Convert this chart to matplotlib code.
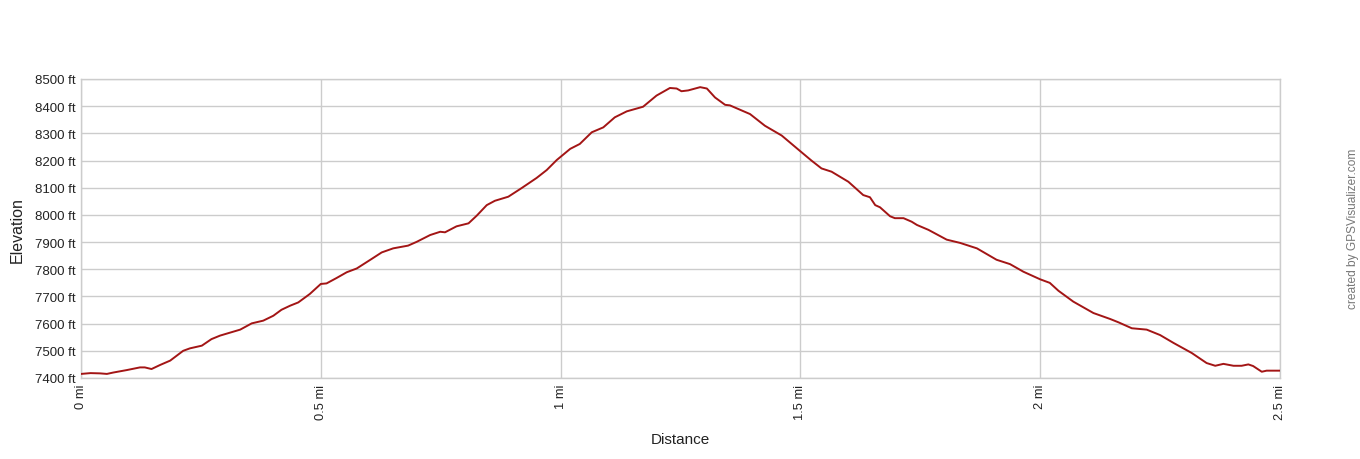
import matplotlib
matplotlib.use("Agg")
import matplotlib.pyplot as plt

distance_mi = [
    0.000, 0.020, 0.040, 0.054, 0.067, 0.095, 0.123, 0.133, 0.147, 0.165,
    0.186, 0.213, 0.227, 0.252, 0.272, 0.290, 0.332, 0.356, 0.380, 0.401,
    0.418, 0.436, 0.453, 0.477, 0.500, 0.512, 0.533, 0.554, 0.575, 0.606,
    0.627, 0.651, 0.682, 0.700, 0.728, 0.749, 0.759, 0.783, 0.808, 0.825,
    0.846, 0.863, 0.891, 0.919, 0.950, 0.971, 0.992, 1.020, 1.040, 1.065,
    1.089, 1.113, 1.138, 1.172, 1.200, 1.228, 1.242, 1.252, 1.266, 1.291,
    1.305, 1.322, 1.343, 1.353, 1.395, 1.426, 1.461, 1.500, 1.523, 1.544,
    1.565, 1.600, 1.631, 1.645, 1.656, 1.666, 1.687, 1.697, 1.715, 1.732,
    1.743, 1.767, 1.805, 1.833, 1.868, 1.909, 1.937, 1.965, 2.000, 2.020,
    2.038, 2.069, 2.111, 2.146, 2.163, 2.191, 2.222, 2.250, 2.278, 2.316,
    2.347, 2.365, 2.382, 2.403, 2.420, 2.434, 2.444, 2.462, 2.472, 2.500,
]
elevation_ft = [
    7415, 7418, 7417, 7415, 7420, 7429, 7439, 7439, 7433, 7448,
    7464, 7500, 7509, 7519, 7543, 7556, 7578, 7601, 7611, 7629,
    7651, 7666, 7678, 7709, 7746, 7748, 7768, 7789, 7803, 7838,
    7862, 7877, 7887, 7901, 7926, 7938, 7936, 7958, 7969, 7997,
    8036, 8052, 8067, 8099, 8136, 8165, 8202, 8243, 8261, 8304,
    8322, 8359, 8381, 8398, 8439, 8467, 8465, 8455, 8458, 8470,
    8465, 8432, 8405, 8403, 8371, 8328, 8292, 8234, 8200, 8171,
    8159, 8122, 8073, 8065, 8036, 8028, 7995, 7988, 7988, 7975,
    7963, 7945, 7909, 7897, 7877, 7835, 7819, 7791, 7763, 7750,
    7721, 7681, 7639, 7617, 7605, 7583, 7578, 7558, 7529, 7492,
    7455, 7445, 7452, 7445, 7445, 7450, 7444, 7423, 7427, 7427,
]

x_ticks = [0, 0.5, 1, 1.5, 2, 2.5]
x_tick_labels = ["0 mi", "0.5 mi", "1 mi", "1.5 mi", "2 mi", "2.5 mi"]
y_ticks = list(range(7400, 8600, 100))
y_tick_labels = [f"{v} ft" for v in y_ticks]

plt.rcParams['font.family'] = ['Liberation Sans', 'DejaVu Sans']

fig = plt.figure(figsize=(13.6, 4.6), dpi=100)
ax = fig.add_axes([81 / 1360, 1 - 379 / 460, (1280 - 81) / 1360, (379 - 80) / 460])

ax.plot(distance_mi, elevation_ft, color="#a31515", linewidth=1.4, zorder=3)

ax.set_xlim(0, 2.5)
ax.set_ylim(7400, 8500)
ax.set_xticks(x_ticks)
ax.set_xticklabels(x_tick_labels, rotation=90, fontsize=9.3)
ax.set_yticks(y_ticks)
ax.set_yticklabels(y_tick_labels, fontsize=9.5)
ax.tick_params(axis='both', length=0, pad=4, colors="#222222")
ax.grid(True, color="#cccccc", linewidth=1.0, zorder=0)
for s in ax.spines.values():
    s.set_color("#cccccc")
    s.set_linewidth(1.0)

fig.text(17 / 1360, 1 - 230 / 460, "Elevation", rotation=90, fontsize=11.5,
         ha="center", va="center", color="#222222")
fig.text(680 / 1360, 1 - 440 / 460, "Distance", fontsize=11,
         ha="center", va="center", color="#222222")
fig.text(1353 / 1360, 1 - 229 / 460, "created by GPSVisualizer.com", rotation=90,
         fontsize=8.6, ha="center", va="center", color="#777777")

fig.savefig("out.png", dpi=100)
